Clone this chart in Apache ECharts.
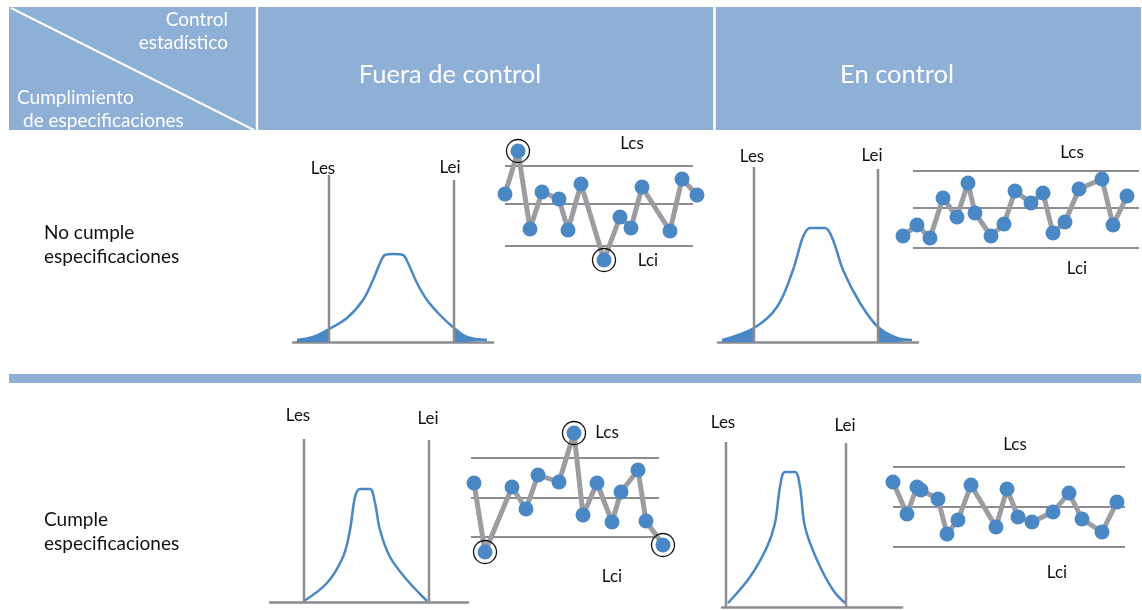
<!DOCTYPE html>
<html><head><meta charset="utf-8">
<script src="https://cdn.jsdelivr.net/npm/echarts@6/dist/echarts.min.js"></script>
<style>html,body{margin:0;padding:0;background:#fff}#c{width:1142px;height:610px}</style>
</head><body><div id="c"></div><script>
// ---------- DATA ----------
const colHeaders = ['Fuera de control', 'En control'];
const rowHeaders = ['No cumple\nespecificaciones', 'Cumple\nespecificaciones'];
const cornerTop = 'Control\nestadístico';
const cornerBottom = ['Cumplimiento', 'de especificaciones'];
const specLabels = ['Les', 'Lei'];
const ctrlLabels = ['Lcs', 'Lci'];

// distribution curves [x, density]
const d1Curve = [[4,2],[20,5],[36,13],[54,24],[70,42],[80,62],[87,79],[92,87],[100,88],[110,87],[115,79],[124,59],[134,42],[147,27],[161,14],[174,5],[194,2]];
const d1Spec = [36, 161];          // Les, Lei positions
const d1SpecTop = [167, 162];
const d2Curve = [[4,2],[36,14],[59,35],[75,72],[85,105],[92,114],[107,114],[115,102],[125,72],[142,39],[160,15],[179,4],[194,2]];
const d2Spec = [36, 160];
const d2SpecTop = [175, 173];
const d3Curve = [[34,1],[57,19],[73,45],[80,72],[85,105],[90,113],[100,113],[105,99],[110,72],[120,45],[137,22],[157,1]];
const d3Spec = [34, 159];
const d3SpecTop = [163, 162];
const d4Curve = [[6,4],[28,30],[45,60],[53,84],[58,120],[63,135],[73,135],[78,120],[83,80],[95,47],[111,17],[123,4]];
const d4Spec = [4, 124];
const d4SpecTop = [165, 164];

// control charts: points [x, value], limits [Lcs, center, Lci], line x-extent
const c1Points = [[5,76],[18,119],[30,41],[42,78],[59,71],[68,40],[81,86],[104,10],[120,53],[131,42],[142,83],[170,39],[182,91],[197,75]];
const c1Out = [1, 7];
const c1Limits = [104, 66, 24];
const c1Span = [5, 193];
const c2Points = [[13,34],[27,45],[40,32],[53,72],[67,53],[78,87],[85,57],[101,34],[114,46],[125,79],[141,67],[153,77],[163,37],[175,48],[189,81],[212,91],[223,45],[237,74]];
const c2Out = [];
const c2Limits = [99, 62, 22];
const c2Span = [23, 249];
const c3Points = [[9,77],[20,8],[47,73],[61,51],[73,85],[94,78],[109,127],[118,45],[132,77],[147,38],[156,68],[173,90],[181,39],[198,15]];
const c3Out = [1, 6, 13];
const c3Limits = [102, 62, 23];
const c3Span = [6, 194];
const c4Points = [[8,88],[22,56],[32,83],[36,80],[53,71],[62,36],[73,50],[86,85],[111,43],[122,81],[133,53],[147,48],[168,58],[184,77],[197,51],[217,38],[232,68]];
const c4Out = [];
const c4Limits = [103, 63, 23];
const c4Span = [8, 240];

// ---------- STYLE / LAYOUT ----------
const BLUE = '#4a87c5';
const GRAY = '#8b8c90';
const LINKGRAY = '#9c9da0';
const HEAD = '#8eafd6';
const FONT = 'Lato, "Open Sans", sans-serif';

const grids = [
  {left:293, top:142, width:200, height:200, xmax:200, ymax:200},  // D1
  {left:500, top:120, width:200, height:150, xmax:200, ymax:150},  // C1
  {left:718, top:142, width:200, height:200, xmax:200, ymax:200},  // D2
  {left:890, top:120, width:250, height:150, xmax:250, ymax:150},  // C2
  {left:270, top:402, width:198, height:200, xmax:198, ymax:200},  // D3
  {left:465, top:410, width:205, height:150, xmax:205, ymax:150},  // C3
  {left:722, top:407, width:180, height:200, xmax:180, ymax:200},  // D4
  {left:885, top:420, width:250, height:150, xmax:250, ymax:150}   // C4
];
const isDist = [true,false,true,false,true,false,true,false];

const xAxis = grids.map((g,i)=>({
  gridIndex:i, type:'value', min:0, max:g.xmax,
  show: isDist[i],
  axisLine:{show:true, onZero:false, lineStyle:{color:GRAY, width:2.5}},
  axisTick:{show:false}, axisLabel:{show:false}, splitLine:{show:false}
}));
const yAxis = grids.map((g,i)=>({
  gridIndex:i, type:'value', min:0, max:g.ymax, show:false, splitLine:{show:false}
}));

const series = [];
function distPanel(gi, curve, spec, specTop, tails){
  if (tails){
    const left = curve.filter(p=>p[0] <= spec[0]);
    const right = curve.filter(p=>p[0] >= spec[1]);
    [left, right].forEach(t=>series.push({
      type:'line', xAxisIndex:gi, yAxisIndex:gi, data:t, smooth:0.3, symbol:'none',
      lineStyle:{width:0}, areaStyle:{color:BLUE, opacity:1}, silent:true, z:2
    }));
  }
  series.push({type:'line', xAxisIndex:gi, yAxisIndex:gi, data:curve, smooth:0.35, symbol:'none',
    lineStyle:{color:BLUE, width:2.5}, z:3});
  spec.forEach((x,k)=>series.push({type:'line', xAxisIndex:gi, yAxisIndex:gi,
    data:[[x,0],[x,specTop[k]]], symbol:'none', lineStyle:{color:GRAY, width:2.5}, z:4}));
}
function ctrlPanel(gi, pts, out, limits, span){
  limits.forEach(v=>series.push({type:'line', xAxisIndex:gi, yAxisIndex:gi,
    data:[[span[0],v],[span[1],v]], symbol:'none', lineStyle:{color:GRAY, width:2}, z:2}));
  series.push({type:'line', xAxisIndex:gi, yAxisIndex:gi, data:pts, symbol:'none',
    lineStyle:{color:LINKGRAY, width:5}, z:3, clip:false});
  series.push({type:'scatter', xAxisIndex:gi, yAxisIndex:gi, data:pts, symbolSize:15,
    itemStyle:{color:BLUE, opacity:1}, z:4, clip:false});
  if (out.length) series.push({type:'scatter', xAxisIndex:gi, yAxisIndex:gi,
    data:out.map(i=>pts[i]), symbolSize:23,
    itemStyle:{color:'rgba(0,0,0,0)', borderColor:'#111', borderWidth:1.3, opacity:1}, z:5, clip:false});
}
distPanel(0, d1Curve, d1Spec, d1SpecTop, true);
ctrlPanel(1, c1Points, c1Out, c1Limits, c1Span);
distPanel(2, d2Curve, d2Spec, d2SpecTop, true);
ctrlPanel(3, c2Points, c2Out, c2Limits, c2Span);
distPanel(4, d3Curve, d3Spec, d3SpecTop, false);
ctrlPanel(5, c3Points, c3Out, c3Limits, c3Span);
distPanel(6, d4Curve, d4Spec, d4SpecTop, false);
ctrlPanel(7, c4Points, c4Out, c4Limits, c4Span);

// ---------- DECORATION ----------
function txt(x,y,s,size,color,align,lh){
  return {type:'text', x:x, y:y, silent:true, style:{text:s, fill:color, font:size+'px '+FONT,
    textAlign:align||'center', textVerticalAlign:'middle', lineHeight:lh||Math.round(size*1.3)}};
}
const graphic = [
  {type:'rect', shape:{x:9,y:7,width:1132,height:123}, style:{fill:HEAD}, z:-10, silent:true},
  {type:'line', shape:{x1:257,y1:7,x2:257,y2:130}, style:{stroke:'#fff', lineWidth:2.5}, silent:true},
  {type:'line', shape:{x1:714.5,y1:7,x2:714.5,y2:130}, style:{stroke:'#fff', lineWidth:2.5}, silent:true},
  {type:'line', shape:{x1:11,y1:8,x2:254,y2:130}, style:{stroke:'#fff', lineWidth:2}, silent:true},
  {type:'rect', shape:{x:9,y:374,width:1132,height:9}, style:{fill:HEAD}, silent:true},
  txt(228, 31.5, cornerTop, 19, '#fff', 'right', 23),
  txt(17, 98, cornerBottom[0], 19, '#fff', 'left'),
  txt(23, 121, cornerBottom[1], 19, '#fff', 'left'),
  txt(450, 75, colHeaders[0], 25.5, '#fff'),
  txt(897, 75, colHeaders[1], 25.5, '#fff'),
  txt(44, 245, rowHeaders[0], 19, '#111', 'left', 24),
  txt(44, 531.5, rowHeaders[1], 19, '#111', 'left', 24),
  // Les / Lei
  txt(323,169,specLabels[0],17,'#111'), txt(450,168,specLabels[1],17,'#111'),
  txt(752,157,specLabels[0],17,'#111'), txt(872,156,specLabels[1],17,'#111'),
  txt(298,416,specLabels[0],17,'#111'), txt(428,419,specLabels[1],17,'#111'),
  txt(723,423,specLabels[0],17,'#111'), txt(845,426,specLabels[1],17,'#111'),
  // Lcs / Lci
  txt(632,144,ctrlLabels[0],17,'#111'), txt(648,261,ctrlLabels[1],17,'#111'),
  txt(1072,153,ctrlLabels[0],17,'#111'), txt(1077,269,ctrlLabels[1],17,'#111'),
  txt(607,433,ctrlLabels[0],17,'#111'), txt(612,577,ctrlLabels[1],17,'#111'),
  txt(1015,445,ctrlLabels[0],17,'#111'), txt(1057,573,ctrlLabels[1],17,'#111')
];

const chart = echarts.init(document.getElementById('c'), null, {renderer:'canvas'});
chart.setOption({
  animation:false,
  backgroundColor:'#fff',
  grid: grids.map(g=>({left:g.left, top:g.top, width:g.width, height:g.height, containLabel:false})),
  xAxis, yAxis, series, graphic
});
</script></body></html>
